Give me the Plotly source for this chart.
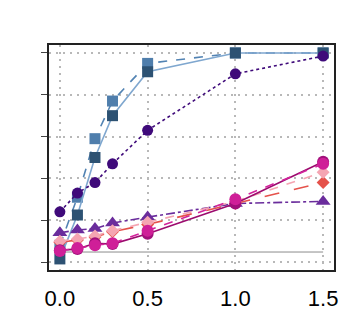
import plotly.graph_objects as go

x = [0, 0.1, 0.2, 0.3, 0.5, 1.0, 1.5]

sq_light = [0.08, 0.31, 0.59, 0.77, 0.95, 1.0, 1.0]
sq_dark = [0.015, 0.225, 0.50, 0.70, 0.91, 1.0, 1.0]
circ_indigo = [0.24, 0.33, 0.38, 0.47, 0.63, 0.90, 0.985]
tri_purple = [0.14, 0.153, 0.16, 0.187, 0.215, 0.28, 0.29]
dia_coral = [0.095, 0.105, 0.12, 0.145, 0.18, 0.28, 0.38]
dia_pink = [0.10, 0.11, 0.125, 0.15, 0.19, 0.29, 0.43]
circ_dmag = [0.057, 0.062, 0.09, 0.086, 0.135, 0.28, 0.48]
circ_mag = [0.053, 0.067, 0.08, 0.09, 0.15, 0.30, 0.47]
baseline = 0.048

xticks = [0, 0.5, 1.0, 1.5]
xlabels = ["0.0", "0.5", "1.0", "1.5"]
yticks = [0, 0.2, 0.4, 0.6, 0.8, 1.0]

fig = go.Figure()

fig.add_trace(go.Scatter(x=[x[0], x[-1]], y=[baseline, baseline], mode="lines",
                         line=dict(color="#8c8c8c", width=1)))


def add(y, line_color, marker_color, symbol, dash, size=11):
    fig.add_trace(go.Scatter(
        x=x, y=y, mode="lines+markers",
        line=dict(color=line_color, width=1.6, dash=dash),
        marker=dict(color=marker_color, symbol=symbol, size=size)))


add(sq_light, "#5283b3", "#4f7eac", "square", "dash")
add(sq_dark, "#7fa7cf", "#2d5273", "square", "solid")
add(circ_indigo, "#3f0a7a", "#3f0a7a", "circle", "dot", 11)
add(tri_purple, "#6a2c9c", "#6a2c9c", "triangle-up", "dashdot", 13)
add(dia_coral, "#e5524b", "#e5524b", "diamond", "longdash", 10)
add(dia_pink, "#f5a5b2", "#f5a5b2", "diamond", "dash", 10)
add(circ_dmag, "#9c0a6e", "#a0107a", "circle", "solid", 12)
add(circ_mag, "#d2239b", "#cf1f98", "circle", "dash", 12)

grid = dict(showgrid=True, gridcolor="#b8b8b8", griddash="2px,5px", gridwidth=1.5,
            showline=True, linecolor="#222", linewidth=1.5, mirror=True, zeroline=False)

fig.update_layout(
    width=360, height=327,
    margin=dict(l=41, r=34, t=37, b=65),
    paper_bgcolor="white", plot_bgcolor="white",
    showlegend=False,
    font=dict(family="Liberation Sans, Arial", color="black"),
)
fig.update_xaxes(
    range=[-0.062, 1.562], tickvals=xticks, ticktext=xlabels,
    tickfont=dict(size=22), ticks="", ticklabelstandoff=8, **grid,
)
fig.update_yaxes(
    range=[-0.038, 1.038], tickvals=yticks, showticklabels=False,
    ticks="outside", ticklen=6, tickcolor="#444", **grid,
)

fig.write_html("out.html")
